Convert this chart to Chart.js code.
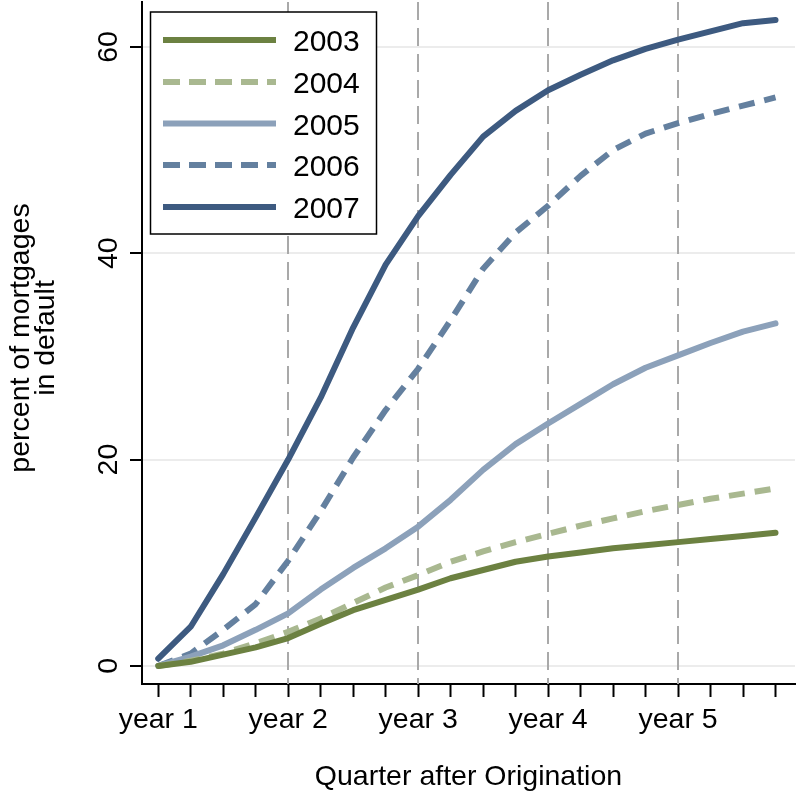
<!DOCTYPE html>
<html>
<head>
<meta charset="utf-8">
<script src="https://cdn.jsdelivr.net/npm/chart.js@4.4.1/dist/chart.umd.min.js"></script>
<style>
html,body{margin:0;padding:0;background:#fff;}
#wrap{width:799px;height:796px;position:relative;}
</style>
</head>
<body>
<div id="wrap"><canvas id="c" width="799" height="796"></canvas></div>
<script>
// ---- data ----
const quarters = [0,1,2,3,4,5,6,7,8,9,10,11,12,13,14,15,16,17,18,19];
const yearTickQuarters = [0,4,8,12,16];
const yearLabels = ['year 1','year 2','year 3','year 4','year 5'];
const yTicks = [0,20,40,60];
const seriesNames = ['2003','2004','2005','2006','2007'];
const s2003 = [0,0.4,1.1,1.8,2.7,4.1,5.4,6.4,7.4,8.5,9.3,10.1,10.6,11.0,11.4,11.7,12.0,12.3,12.6,12.9];
const s2004 = [0,0.5,1.2,2.2,3.3,4.6,6.1,7.6,8.8,10.1,11.1,12.0,12.8,13.6,14.3,15.0,15.6,16.2,16.7,17.2];
const s2005 = [0,0.9,2.0,3.5,5.1,7.4,9.5,11.4,13.5,16.1,19.0,21.5,23.5,25.4,27.3,28.9,30.1,31.3,32.4,33.2];
const s2006 = [0,1.2,3.5,6.0,10.2,15.0,20.2,24.8,28.8,33.5,38.5,42.0,44.6,47.5,50.0,51.6,52.6,53.5,54.3,55.1];
const s2007 = [0.7,3.8,8.9,14.4,20.0,26.0,32.8,38.9,43.6,47.6,51.3,53.8,55.8,57.3,58.7,59.8,60.7,61.5,62.3,62.6];
const seriesValues = [s2003,s2004,s2005,s2006,s2007];
const colors = ['#6c8141','#a9b890','#8ca1ba','#64809f','#3d5a80'];
const dashed = [false,true,false,true,false];

const FONT = '"Liberation Sans", Arial, Helvetica, sans-serif';
const DASH = [16,10];

const datasets = seriesNames.map((name,i)=>({
  label: name,
  data: quarters.map((q,j)=>({x:q, y:seriesValues[i][j]})),
  borderColor: colors[i],
  backgroundColor: colors[i],
  borderWidth: 6,
  borderDash: dashed[i] ? DASH : [],
  borderCapStyle: dashed[i] ? 'butt' : 'round',
  borderJoinStyle: 'round',
  pointRadius: 0,
  tension: 0,
  fill: false
}));

const yearLines = {
  id: 'yearLines',
  beforeDatasetsDraw(chart){
    const {ctx, chartArea:a, scales:{x}} = chart;
    ctx.save();
    ctx.strokeStyle = '#a9a9a9';
    ctx.lineWidth = 2;
    ctx.setLineDash([18,8]);
    yearTickQuarters.slice(1).forEach(q=>{
      const px = Math.round(x.getPixelForValue(q));
      ctx.beginPath();
      ctx.moveTo(px, a.top);
      ctx.lineTo(px, a.bottom);
      ctx.stroke();
    });
    ctx.restore();
  }
};

const boxLegend = {
  id: 'boxLegend',
  afterDatasetsDraw(chart){
    const {ctx} = chart;
    const L = 150.5, T = 12, W = 226, H = 222;
    ctx.save();
    ctx.fillStyle = '#fff';
    ctx.fillRect(L, T, W, H);
    ctx.strokeStyle = '#000';
    ctx.lineWidth = 1.5;
    ctx.strokeRect(L, T, W, H);
    const rowY = [40, 82, 123.5, 165, 207];
    chart.data.datasets.forEach((ds,i)=>{
      const y = rowY[i];
      ctx.beginPath();
      ctx.strokeStyle = ds.borderColor;
      ctx.lineWidth = 6;
      ctx.lineCap = 'butt';
      ctx.setLineDash(ds.borderDash && ds.borderDash.length ? [17,9] : []);
      ctx.moveTo(163, y);
      ctx.lineTo(276, y);
      ctx.stroke();
      ctx.setLineDash([]);
      ctx.fillStyle = '#000';
      ctx.font = '30px ' + FONT;
      ctx.textAlign = 'left';
      ctx.textBaseline = 'alphabetic';
      ctx.fillText(ds.label, 293, y + 11);
    });
    ctx.restore();
  }
};

new Chart(document.getElementById('c'), {
  type: 'line',
  data: { datasets },
  options: {
    responsive: false,
    animation: false,
    layout: { padding: { left: 0, right: 4, top: 2, bottom: 0 } },
    plugins: { legend: { display: false }, tooltip: { enabled: false } },
    scales: {
      x: {
        type: 'linear',
        min: -0.5,
        max: 19.6,
        afterBuildTicks(scale){ scale.ticks = quarters.map(q=>({value:q})); },
        afterFit(scale){ scale.height = 112; scale.paddingLeft = 0; scale.paddingRight = 0; },
        ticks: {
          autoSkip: false,
          maxRotation: 0,
          minRotation: 0,
          padding: 6,
          color: '#000',
          font: { family: FONT, size: 28.5 },
          callback(v){ const k = yearTickQuarters.indexOf(v); return k >= 0 ? yearLabels[k] : ''; }
        },
        grid: { drawOnChartArea: false, drawTicks: true, tickLength: 13, tickWidth: 2, tickColor: '#000' },
        border: { display: true, color: '#000', width: 2 },
        title: {
          display: true,
          text: 'Quarter after Origination',
          color: '#000',
          font: { family: FONT, size: 28.5 },
          padding: { top: 0, bottom: 2 }
        }
      },
      y: {
        type: 'linear',
        min: -1.75,
        max: 64.35,
        afterBuildTicks(scale){ scale.ticks = yTicks.map(v=>({value:v})); },
        afterFit(scale){
          scale.width = 142; scale.paddingTop = 0; scale.paddingBottom = 0;
          if (!scale._titleShifted) {
            const orig = scale.drawTitle;
            scale.drawTitle = function(){
              this.ctx.save();
              this.ctx.translate(0, -5);
              orig.call(this);
              this.ctx.restore();
            };
            scale._titleShifted = true;
          }
        },
        ticks: {
          minRotation: 90,
          maxRotation: 90,
          crossAlign: 'center',
          padding: 5,
          color: '#000',
          font: { family: FONT, size: 28.5 }
        },
        grid: { color: '#ececec', lineWidth: 2, drawTicks: true, tickLength: 12, tickWidth: 2, tickColor: '#000' },
        border: { display: true, color: '#000', width: 2 },
        title: {
          display: true,
          text: ['percent of mortgages','in default'],
          color: '#000',
          font: { family: FONT, size: 28.5, lineHeight: 0.86 },
          padding: { top: 9, bottom: 0 }
        }
      }
    }
  },
  plugins: [yearLines, boxLegend]
});
</script>
</body>
</html>
